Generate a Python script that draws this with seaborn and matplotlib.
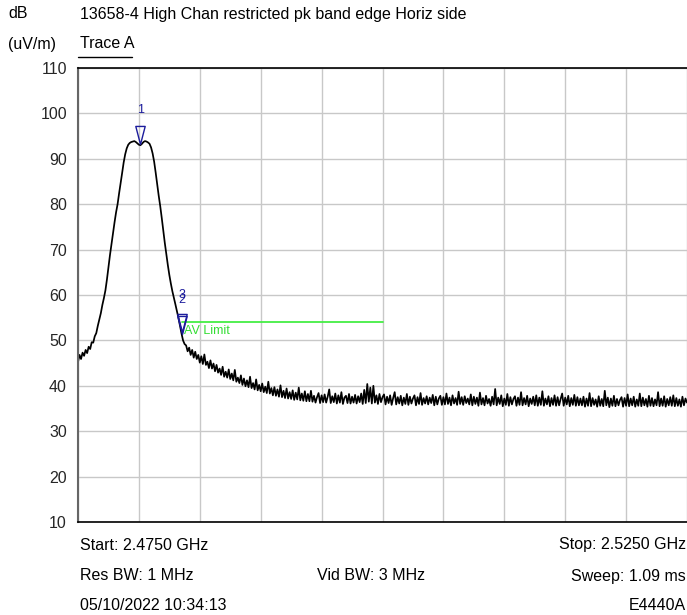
import numpy as np
import pandas as pd
import matplotlib
matplotlib.use("Agg")
import matplotlib.pyplot as plt
from matplotlib.path import Path
from matplotlib.lines import Line2D
import seaborn as sns

# sweep settings (GHz)
sweep_start = 2.4750
sweep_stop = 2.5250
n_points = 401

# trace A levels, dB(uV/m) at each sweep point
lobe_levels = [
    45.2, 46.8, 45.9, 47.3, 46.6, 47.9, 47.2, 48.6, 48.1, 49.6,
    49.5, 50.9, 51.6, 53.2, 54.6, 56.0, 57.8, 59.3, 61.0, 63.4,
    66.2, 68.8, 71.2, 73.6, 76.0, 78.2, 80.0, 82.4, 84.6, 86.9,
    89.2, 91.0, 92.3, 93.1, 93.5, 93.7, 93.8, 93.9, 93.7, 93.4,
    93.1, 93.0, 93.3, 93.7, 93.9, 93.8, 93.6, 93.3, 92.5, 91.2,
    89.4, 87.0, 84.4, 81.9, 79.6, 77.0, 74.2, 71.5, 69.0, 66.6,
    64.4, 62.5, 60.8, 59.4, 57.9, 56.4, 54.9, 53.2, 51.5, 50.0,
    49.2,
]
floor_levels = [
    48.9, 47.6, 48.4, 46.8, 47.9, 46.2, 47.5, 45.9, 46.8, 45.1,
    46.5, 44.8, 46.9, 44.6, 45.3, 43.9, 45.6, 43.8, 44.9, 43.2,
    44.6, 42.9, 43.8, 42.4, 44.2, 42.0, 43.1, 41.8, 43.6, 41.5,
    42.7, 41.2, 43.5, 40.9, 41.8, 40.6, 42.3, 40.2, 41.6, 39.9,
    41.2, 39.7, 42.0, 39.5, 40.6, 39.2, 41.4, 39.0, 40.2, 38.8,
    40.5, 38.6, 39.8, 38.4, 40.9, 38.3, 39.5, 37.9, 39.7, 37.8,
    39.2, 37.6, 40.1, 37.5, 38.9, 37.3, 39.4, 37.2, 38.6, 37.1,
    39.0, 36.9, 38.5, 37.0, 39.6, 36.8, 38.3, 36.7, 38.8, 36.6,
    38.2, 36.6, 38.9, 36.5, 37.8, 36.3, 37.5, 38.4, 36.2, 37.9,
    36.4, 38.1, 36.3, 37.6, 39.2, 36.2, 37.7, 36.4, 38.3, 36.1,
    37.9, 36.3, 38.6, 36.0, 37.4, 37.8, 36.2, 38.2, 36.1, 37.6,
    36.3, 38.0, 36.1, 37.7, 36.4, 38.3, 36.0, 39.1, 36.2, 40.4,
    36.5, 39.6, 36.1, 40.0, 36.3, 37.9, 36.0, 38.2, 36.4, 37.5,
    38.1, 35.9, 37.6, 36.2, 37.9, 35.8, 37.3, 38.6, 35.9, 37.5,
    36.1, 37.8, 35.7, 37.4, 36.0, 38.2, 35.8, 37.6, 36.1, 37.2,
    37.9, 35.7, 37.5, 36.0, 38.4, 35.8, 37.3, 36.1, 37.7, 35.9,
    37.4, 36.2, 38.0, 35.7, 37.6, 35.9, 37.2, 37.8, 35.8, 37.5,
    35.9, 38.3, 36.0, 37.4, 35.7, 37.9, 36.1, 37.3, 35.8, 38.7,
    36.0, 37.5, 35.8, 37.7, 36.2, 37.2, 35.9, 38.1, 35.7, 37.6,
    36.0, 37.4, 35.6, 38.5, 35.9, 37.3, 35.7, 37.8, 36.1, 37.1,
    35.6, 37.6, 35.9, 39.3, 35.7, 37.4, 36.0, 37.9, 35.5, 37.2,
    35.8, 38.2, 35.6, 37.5, 35.9, 37.1, 37.7, 35.6, 37.4, 35.8,
    38.6, 35.7, 37.3, 35.9, 37.8, 35.5, 37.2, 36.0, 37.6, 35.7,
    37.9, 35.6, 37.4, 35.8, 38.8, 35.6, 37.2, 35.9, 37.7, 35.5,
    37.3, 35.8, 37.9, 35.6, 37.5, 35.7, 37.1, 38.3, 35.6, 37.4,
    35.9, 37.8, 35.5, 37.3, 35.8, 38.0, 35.6, 37.5, 35.7, 37.2,
    35.7, 37.6, 35.4, 37.2, 35.6, 38.4, 35.5, 37.3, 35.8, 37.0,
    35.4, 37.7, 35.6, 37.1, 35.5, 38.9, 35.7, 37.4, 35.3, 37.2,
    35.6, 37.8, 35.5, 37.1, 35.7, 36.9, 37.5, 35.4, 37.3, 35.6,
    38.1, 35.5, 37.2, 35.7, 37.6, 35.4, 37.0, 35.6, 38.3, 35.5,
    37.4, 35.7, 37.1, 35.4, 37.8, 35.6, 37.3, 35.5, 37.0, 35.7,
    38.6, 35.5, 37.2, 35.6, 37.7, 35.4, 37.1, 35.7, 37.5, 35.6,
    37.9, 35.5, 37.3, 35.6, 37.0, 35.4, 37.6, 35.7, 37.2, 36.3,
]

# markers: label, freq (GHz), level
marker_labels = ["1", "2", "3"]
marker_freqs = [2.48013, 2.4835, 2.4835]
marker_levels = [93.2, 51.3, 51.8]

# AV limit line
limit_freqs = [2.4835, 2.5000]
limit_levels = [54.0, 54.0]

y_ticks = [10, 20, 30, 40, 50, 60, 70, 80, 90, 100, 110]

df = pd.DataFrame({
    "freq": np.linspace(sweep_start, sweep_stop, n_points),
    "level": lobe_levels + floor_levels,
})

sns.set_style("white")
plt.rcParams["font.family"] = ["Liberation Sans", "DejaVu Sans"]

W, H = 687, 615
fig = plt.figure(figsize=(W / 100, H / 100), dpi=100)
ax = fig.add_axes([78 / W, 93 / H, 609 / W, 454 / H])

sns.lineplot(data=df, x="freq", y="level", ax=ax, color="black",
             linewidth=1.25, sort=False, estimator=None)

# limit line
ax.plot(limit_freqs, limit_levels, color="#44ee44", linewidth=1.3)
ax.annotate("AV Limit", (limit_freqs[0], limit_levels[0]), xytext=(2, -6),
            textcoords="offset points", color="#33dd33", fontsize=9,
            ha="left", va="center")

# marker triangles (tip at the trace point)
tri = Path([(0, 0), (-0.26, 1), (0.26, 1), (0, 0)],
           [Path.MOVETO, Path.LINETO, Path.LINETO, Path.CLOSEPOLY])
mk_color = "#1c1c9c"
for lab, f, lv in zip(marker_labels, marker_freqs, marker_levels):
    ax.plot([f], [lv], marker=tri, markersize=26, markerfacecolor="none",
            markeredgecolor=mk_color, markeredgewidth=1.0, linestyle="none")
    ax.annotate(lab, (f, lv), xytext=(0, 25 if lab != "3" else 26.5),
                textcoords="offset points", color=mk_color, fontsize=9,
                ha="center", va="center")

ax.set_xlim(sweep_start, sweep_stop)
ax.set_ylim(10, 110)
ax.set_xticks(np.linspace(sweep_start, sweep_stop, 11))
ax.set_xticklabels([])
ax.set_yticks(y_ticks)
ax.set_yticklabels([str(t) for t in y_ticks])
ax.tick_params(axis="both", length=0)
ax.tick_params(axis="y", pad=8, labelsize=11.5)
ax.grid(True, color="#c8c8c8", linewidth=1.0)
ax.set_xlabel("")
ax.set_ylabel("")
for side in ["top", "bottom"]:
    ax.spines[side].set_color("black")
    ax.spines[side].set_linewidth(1.2)
ax.spines["left"].set_color("#666666")
ax.spines["left"].set_linewidth(1.5)
ax.spines["right"].set_visible(False)


def ftext(x, y, s, ha="left"):
    fig.text(x / W, 1 - y / H, s, ha=ha, va="center", fontsize=11.5,
             color="black")


ftext(8, 14, "dB")
ftext(80, 14, "13658-4 High Chan restricted pk band edge Horiz side")
ftext(8, 44, "(uV/m)")
ftext(80, 44, "Trace A")
fig.add_artist(Line2D([78 / W, 132 / W], [1 - 57 / H, 1 - 57 / H],
                      color="black", linewidth=1.0))

ftext(80, 545, "Start: 2.4750 GHz")
ftext(686, 545, "Stop: 2.5250 GHz", ha="right")
ftext(80, 576, "Res BW: 1 MHz")
ftext(317, 576, "Vid BW: 3 MHz")
ftext(686, 576, "Sweep: 1.09 ms", ha="right")
ftext(80, 606, "05/10/2022 10:34:13")
ftext(686, 606, "E4440A", ha="right")

fig.savefig("out.png", dpi=100)
